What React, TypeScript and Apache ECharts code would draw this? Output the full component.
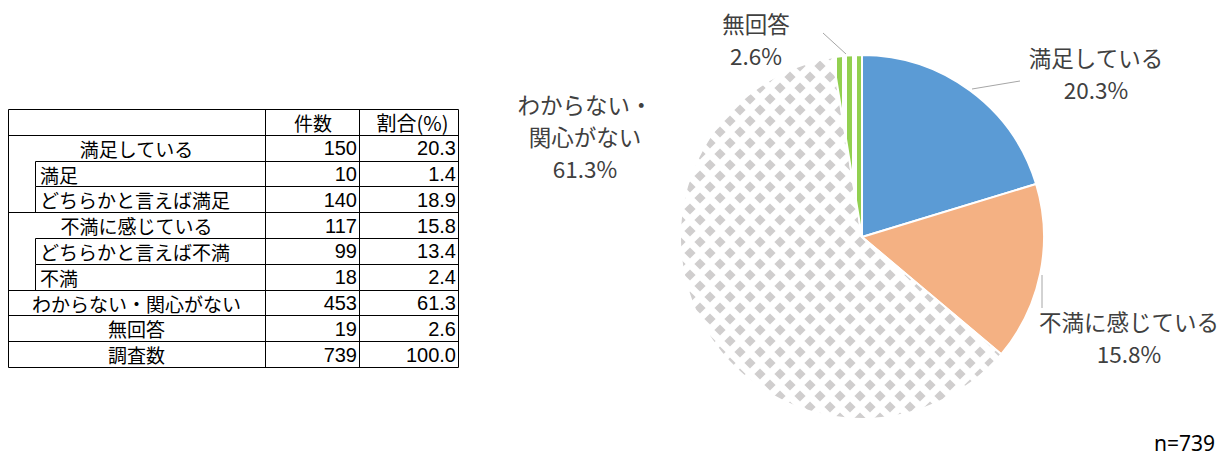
import React, { useEffect, useRef } from "react";
import * as echarts from "echarts";

// ---------- data ----------
const pieNames = ["満足している", "不満に感じている", "わからない・関心がない", "無回答"];
const pieLabelNames = ["満足している", "不満に感じている", "わからない・\n関心がない", "無回答"];
const pieValues = [150, 117, 453, 19];

const tableHeaders = ["", "件数", "割合(%)"];
const tableLabels = [
  "満足している",
  "満足",
  "どちらかと言えば満足",
  "不満に感じている",
  "どちらかと言えば不満",
  "不満",
  "わからない・関心がない",
  "無回答",
  "調査数",
];
const tableKinds = ["group", "sub", "sub", "group", "sub", "sub", "group", "group", "group"];
const tableCounts = [150, 10, 140, 117, 99, 18, 453, 19, 739];
const tablePercents = ["20.3", "1.4", "18.9", "15.8", "13.4", "2.4", "61.3", "2.6", "100.0"];
const sampleNote = "n=739";

// ---------- layout / style ----------
const T = { left: 8, indent: 35, col1: 265, col2: 359, right: 458, top: 109, rowH: 25.8 };
const CJK = "'Noto Sans CJK JP', sans-serif";
const NUM = "'Liberation Sans Narrow', 'Liberation Sans', sans-serif";
const labelPos: { x: number; y: number; line: number[][] | null }[] = [
  { x: 1096, y: 73, line: [[972, 89], [1020, 81], [1020, 81]] },
  { x: 1129, y: 337, line: [[1042, 275], [1042, 308], [1042, 308]] },
  { x: 585, y: 136, line: null },
  { x: 756, y: 39, line: [[846, 54], [823, 33], [823, 33]] },
];

function makeDiamond() {
  const W = 20, H = 22;
  const c = document.createElement("canvas");
  c.width = W; c.height = H;
  const g = c.getContext("2d")!;
  g.fillStyle = "#ffffff"; g.fillRect(0, 0, W, H);
  g.fillStyle = "#D0CECE";
  const r = 5.6;
  const centers = [[0, 0], [W, 0], [0, H], [W, H], [W / 2, H / 2]];
  for (const [cx, cy] of centers) {
    g.beginPath();
    g.moveTo(cx, cy - r); g.lineTo(cx + r, cy); g.lineTo(cx, cy + r); g.lineTo(cx - r, cy);
    g.closePath(); g.fill();
  }
  return c;
}
function makeStripe() {
  const W = 10, H = 10;
  const c = document.createElement("canvas");
  c.width = W; c.height = H;
  const g = c.getContext("2d")!;
  g.fillStyle = "#ffffff"; g.fillRect(0, 0, W, H);
  g.fillStyle = "#92D050";
  g.fillRect(7, 0, 3, H);
  g.fillRect(0, 0, 2, H);
  return c;
}

function buildTable(): any[] {
  const els: any[] = [];
  const n = tableLabels.length + 1;
  const yAt = (k: number) => Math.round(T.top + k * T.rowH) + 0.5;
  const line = (x1: number, y1: number, x2: number, y2: number) => ({
    type: "line",
    shape: { x1, y1, x2, y2 },
    style: { stroke: "#000", lineWidth: 1 },
    silent: true,
  });
  for (let k = 0; k <= n; k++) {
    const below = k >= 1 && k <= tableLabels.length ? tableKinds[k - 1] : "group";
    const x1 = below === "sub" ? T.indent + 0.5 : T.left + 0.5;
    els.push(line(x1, yAt(k), T.right + 0.5, yAt(k)));
  }
  [T.left, T.col1, T.col2, T.right].forEach((x) => els.push(line(x + 0.5, yAt(0), x + 0.5, yAt(n))));
  tableKinds.forEach((kind, i) => {
    if (kind === "sub") els.push(line(T.indent + 0.5, yAt(i + 1), T.indent + 0.5, yAt(i + 2)));
  });
  const txt = (text: string, x: number, y: number, align: string, font: string) => ({
    type: "text",
    x, y,
    silent: true,
    style: {
      text, font, fill: "#000",
      align, verticalAlign: "middle",
      textAlign: align, textVerticalAlign: "middle",
    },
  });
  const mid = (k: number) => T.top + (k + 0.5) * T.rowH + 0.5;
  els.push(txt(tableHeaders[1], (T.col1 + T.col2) / 2 + 1, mid(0), "center", `19px ${CJK}`));
  els.push(txt(tableHeaders[2], (T.col2 + T.right) / 2 + 4, mid(0), "center", `20px ${CJK}`));
  tableLabels.forEach((lab, i) => {
    const y = mid(i + 1);
    if (tableKinds[i] === "sub") els.push(txt(lab, T.indent + 5, y, "left", `19px ${CJK}`));
    else els.push(txt(lab, (T.left + T.col1) / 2, y, "center", `19px ${CJK}`));
    els.push(txt(String(tableCounts[i]), T.col2 - 2, y, "right", `20px ${NUM}`));
    els.push(txt(tablePercents[i], T.right - 2, y, "right", `20px ${NUM}`));
  });
  els.push(txt(sampleNote, 1215, 443, "right", `21px 'Noto Sans', sans-serif`));
  return els;
}

export default function App() {
  const ref = useRef<HTMLDivElement>(null);
  useEffect(() => {
    if (!ref.current) return;
    const chart = echarts.init(ref.current, undefined, { renderer: "svg" });
    const diamond = makeDiamond();
    const stripe = makeStripe();
    const fills: any[] = [
      "#5B9BD5",
      "#F4B183",
      { image: diamond, repeat: "repeat", imageWidth: diamond.width, imageHeight: diamond.height },
      { image: stripe, repeat: "repeat", imageWidth: stripe.width, imageHeight: stripe.height },
    ];
    chart.setOption({
      animation: false,
      backgroundColor: "#ffffff",
      series: [
        {
          type: "pie",
          center: [862, 237],
          radius: 182,
          startAngle: 90,
          clockwise: true,
          percentPrecision: 1,
          avoidLabelOverlap: false,
          itemStyle: { borderColor: "#ffffff", borderWidth: 2 },
          emphasis: { disabled: true },
          label: {
            show: true,
            position: "outside",
            color: "#404040",
            fontSize: 22.5,
            lineHeight: 32,
            fontFamily: CJK,
            align: "center",
            formatter: (p: any) => `${pieLabelNames[p.dataIndex]}\n${p.percent}%`,
          },
          labelLine: { show: true, lineStyle: { color: "#A6A6A6", width: 1 } },
          labelLayout: (params: any) => {
            const p = labelPos[params.dataIndex];
            const o: any = { x: p.x, y: p.y, align: "center", verticalAlign: "middle" };
            if (p.line) o.labelLinePoints = p.line;
            return o;
          },
          data: pieNames.map((name, i) => ({
            name,
            value: pieValues[i],
            itemStyle: { color: fills[i] },
            labelLine: { show: labelPos[i].line !== null },
          })),
        },
      ],
      graphic: { elements: buildTable() },
    });
    return () => chart.dispose();
  }, []);
  return (
    <div
      ref={ref}
      style={{ position: "absolute", left: 0, top: 0, width: 1232, height: 458 }}
    />
  );
}
